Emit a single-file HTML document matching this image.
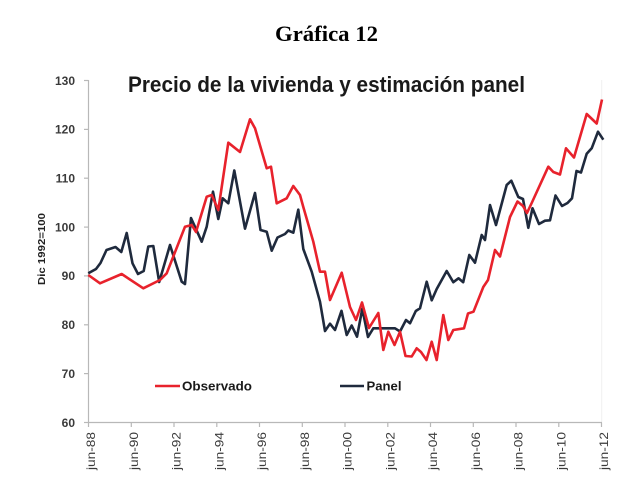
<!DOCTYPE html>
<html><head><meta charset="utf-8"><style>
html,body{margin:0;padding:0;background:#fff;}
svg{display:block;}
</style></head><body>
<svg width="635" height="484" viewBox="0 0 635 484" xmlns="http://www.w3.org/2000/svg">
<rect width="635" height="484" fill="#fff"/>
<text x="326.5" y="41" text-anchor="middle" font-family="Liberation Serif, serif" font-weight="bold" font-size="22" textLength="103" lengthAdjust="spacingAndGlyphs" fill="#000">Gráfica 12</text>
<text x="128" y="92" font-family="Liberation Sans, sans-serif" font-weight="bold" font-size="22" textLength="397" lengthAdjust="spacingAndGlyphs" fill="#1a1a1a">Precio de la vivienda y estimación panel</text>
<!-- axes -->
<line x1="601.7" y1="80" x2="601.7" y2="422" stroke="#f0f0f0" stroke-width="1"/>
<line x1="88.5" y1="80" x2="88.5" y2="422.5" stroke="#b8b8b8" stroke-width="1.2"/>
<line x1="88.5" y1="422.5" x2="602" y2="422.5" stroke="#b8b8b8" stroke-width="1.2"/>
<g stroke="#b8b8b8" stroke-width="1.2">
<line x1="84" y1="80.5" x2="88.5" y2="80.5"/>
<line x1="84" y1="129.4" x2="88.5" y2="129.4"/>
<line x1="84" y1="178.2" x2="88.5" y2="178.2"/>
<line x1="84" y1="227.1" x2="88.5" y2="227.1"/>
<line x1="84" y1="275.9" x2="88.5" y2="275.9"/>
<line x1="84" y1="324.8" x2="88.5" y2="324.8"/>
<line x1="84" y1="373.6" x2="88.5" y2="373.6"/>
<line x1="84" y1="422.5" x2="88.5" y2="422.5"/>
<line x1="88.5" y1="422.5" x2="88.5" y2="427"/>
<line x1="131.3" y1="422.5" x2="131.3" y2="427"/>
<line x1="174" y1="422.5" x2="174" y2="427"/>
<line x1="216.8" y1="422.5" x2="216.8" y2="427"/>
<line x1="259.5" y1="422.5" x2="259.5" y2="427"/>
<line x1="302.3" y1="422.5" x2="302.3" y2="427"/>
<line x1="345" y1="422.5" x2="345" y2="427"/>
<line x1="387.8" y1="422.5" x2="387.8" y2="427"/>
<line x1="430.5" y1="422.5" x2="430.5" y2="427"/>
<line x1="473.3" y1="422.5" x2="473.3" y2="427"/>
<line x1="516" y1="422.5" x2="516" y2="427"/>
<line x1="558.8" y1="422.5" x2="558.8" y2="427"/>
<line x1="601.5" y1="422.5" x2="601.5" y2="427"/>
</g>
<g font-family="Liberation Sans, sans-serif" font-weight="bold" font-size="12" fill="#3a3a3a" text-anchor="end">
<text x="75" y="84.8">130</text>
<text x="75" y="133.7">120</text>
<text x="75" y="182.5">110</text>
<text x="75" y="231.4">100</text>
<text x="75" y="280.2">90</text>
<text x="75" y="329.1">80</text>
<text x="75" y="377.9">70</text>
<text x="75" y="426.8">60</text>
</g>
<text transform="translate(45,249) rotate(-90)" text-anchor="middle" font-family="Liberation Sans, sans-serif" font-weight="bold" font-size="10" textLength="72" lengthAdjust="spacingAndGlyphs" fill="#222">Dic 1992=100</text>
<g font-family="Liberation Sans, sans-serif" font-size="12" fill="#3a3a3a">
<text transform="translate(95,470) rotate(-90)" textLength="38" lengthAdjust="spacingAndGlyphs">jun-88</text>
<text transform="translate(137.8,470) rotate(-90)" textLength="38" lengthAdjust="spacingAndGlyphs">jun-90</text>
<text transform="translate(180.5,470) rotate(-90)" textLength="38" lengthAdjust="spacingAndGlyphs">jun-92</text>
<text transform="translate(223.3,470) rotate(-90)" textLength="38" lengthAdjust="spacingAndGlyphs">jun-94</text>
<text transform="translate(266,470) rotate(-90)" textLength="38" lengthAdjust="spacingAndGlyphs">jun-96</text>
<text transform="translate(308.8,470) rotate(-90)" textLength="38" lengthAdjust="spacingAndGlyphs">jun-98</text>
<text transform="translate(351.5,470) rotate(-90)" textLength="38" lengthAdjust="spacingAndGlyphs">jun-00</text>
<text transform="translate(394.3,470) rotate(-90)" textLength="38" lengthAdjust="spacingAndGlyphs">jun-02</text>
<text transform="translate(437,470) rotate(-90)" textLength="38" lengthAdjust="spacingAndGlyphs">jun-04</text>
<text transform="translate(479.8,470) rotate(-90)" textLength="38" lengthAdjust="spacingAndGlyphs">jun-06</text>
<text transform="translate(522.5,470) rotate(-90)" textLength="38" lengthAdjust="spacingAndGlyphs">jun-08</text>
<text transform="translate(565.3,470) rotate(-90)" textLength="38" lengthAdjust="spacingAndGlyphs">jun-10</text>
<text transform="translate(608,470) rotate(-90)" textLength="38" lengthAdjust="spacingAndGlyphs">jun-12</text>
</g>
<!-- series -->
<polyline fill="none" stroke="#1f2a3d" stroke-width="2.6" stroke-linejoin="round" points="88.3,273.3 96,269 100.5,263 106.5,250 115.5,247 121.3,252 126.7,233 132.5,263.3 138,274 143.7,271 148.3,246.5 153.3,246 159.2,282 170,245 181.7,281.7 185,284 191,218 201.7,241.7 206.7,226.7 213,191.7 218.3,219 222.7,198.3 228.3,203.3 234.3,170.5 245,228.7 255,193 260.5,230 266.7,231.7 271.7,250.7 277.5,237.5 285,234 288.3,230.5 293.3,232.7 298.3,209.7 303.3,249 311.7,271.7 320,301.7 325,331 330,323.7 335,330 341.5,310.8 346.7,335 351.7,325.5 357,336.7 362.3,308.8 368,337 373.3,328.3 395,328.3 400,331.5 406,320 410,323.3 415.8,311 420,308.3 426.7,281.7 431.7,300.3 436.7,289 446.7,271 453.3,282.2 458.5,278.3 463.2,282.2 469.3,255 475,262.7 481.7,235 485,240 490,205 496,225 506.7,185 511.3,180.7 518.3,197 523,199 528.3,227.8 532.5,208.3 539,224 545,220.7 550,220.3 555.5,195.5 562,206 567.5,203 572,198.3 576.5,171 581,172.5 586.7,153.8 591.7,148.3 598,131.7 603.3,139.7"/>
<polyline fill="none" stroke="#e8222c" stroke-width="2.6" stroke-linejoin="round" points="88.3,275 100,283.3 121.7,274 143.3,288.3 160,280 166.7,273.3 185,226.7 191.7,225 196,232 206.7,196.7 211.7,195 218.3,210 228.3,142.7 240,152 250,119.3 255,128.3 266.7,168.3 271,166.7 276.7,203.3 286.7,198.3 293.3,186 300,195 303.3,207 313.3,241.7 320,271.7 325,271.7 330,300 341.7,272.7 350,307 356,320 362,302.5 369,328 378.3,313 383.3,350 388.3,331.7 394.5,345 400,331.7 405.5,356 411.7,356.5 416.7,348.3 421,352 426.5,360 431.7,341.7 436.7,360 443.3,315 448.3,340 453.3,330 464,328.3 468,313.5 473.5,311.7 483.3,287 488,280 495,250 500,256.5 510,217 517.5,201.5 523,206 527,213 531.7,203 548.3,166.7 553.3,172 560,174.5 566,148.3 574,157.5 586.7,114 596.7,123.5 602,99.5"/>
<!-- legend -->
<line x1="155" y1="386" x2="180" y2="386" stroke="#e8222c" stroke-width="2.6"/>
<text x="182" y="390.5" font-family="Liberation Sans, sans-serif" font-weight="bold" font-size="13" textLength="70" lengthAdjust="spacingAndGlyphs" fill="#1a1a1a">Observado</text>
<line x1="340" y1="386" x2="364" y2="386" stroke="#1f2a3d" stroke-width="2.6"/>
<text x="366.5" y="390.5" font-family="Liberation Sans, sans-serif" font-weight="bold" font-size="13" textLength="35" lengthAdjust="spacingAndGlyphs" fill="#1a1a1a">Panel</text>
</svg>
</body></html>
